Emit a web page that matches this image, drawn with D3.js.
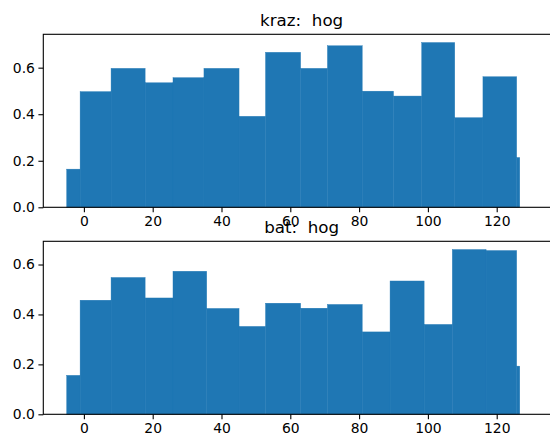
<!DOCTYPE html>
<html>
<head>
<meta charset="utf-8">
<script src="https://cdn.jsdelivr.net/npm/d3@7"></script>
<style>
  body { margin: 0; background: white; }
  svg { display: block; overflow: hidden; }
  text { font-family: "DejaVu Sans", sans-serif; fill: #000; }
</style>
</head>
<body>
<script>
// bin edges and bar heights
let krazEdges = [-5, -1.1, 7.9, 17.8, 25.9, 34.9, 45.1, 52.8, 63.0, 70.8, 80.9, 90.0, 98.2, 107.8, 116.0, 125.8, 126.7]
let krazValues = [0.164, 0.497, 0.597, 0.535, 0.557, 0.597, 0.391, 0.666, 0.597, 0.694, 0.499, 0.478, 0.708, 0.385, 0.561, 0.214]
let batEdges = [-5, -1.1, 7.9, 17.8, 25.9, 35.7, 45.1, 52.8, 63.0, 70.8, 80.9, 89.0, 98.9, 107.1, 116.9, 125.8, 126.7]
let batValues = [0.156, 0.457, 0.548, 0.466, 0.573, 0.424, 0.352, 0.445, 0.425, 0.440, 0.330, 0.534, 0.360, 0.660, 0.656, 0.193]
let titles = ['kraz:  hog', 'bat:  hog']
let xTicks = [0, 20, 40, 60, 80, 100, 120]
let yTicks = [0, 0.2, 0.4, 0.6]
let xLimits = [-11.8, 138.4]

let width = 550
let height = 435
let left = 43.3
let right = 560
let panels = [
    {edges: krazEdges, values: krazValues, title: titles[0], top: 34.3, bottom: 207.3},
    {edges: batEdges, values: batValues, title: titles[1], top: 241.3, bottom: 414.3}
]

let svg = d3.select('body')
    .append('svg')
    .attr('width', width)
    .attr('height', height)

let x = d3.scaleLinear()
    .domain(xLimits)
    .range([left, right])

function drawPanel(p) {
    let ymax = d3.max(p.values) * 1.05
    let y = d3.scaleLinear()
        .domain([0, ymax])
        .range([p.bottom, p.top])
    let bins = p.values.map((v, k) => ({x0: p.edges[k], x1: p.edges[k + 1], v: v}))

    let g = svg.append('g')
    g.selectAll('rect')
        .data(bins)
        .enter()
        .append('rect')
        .attr('x', d => x(d.x0))
        .attr('width', d => x(d.x1) - x(d.x0))
        .attr('y', d => y(d.v))
        .attr('height', d => y(0) - y(d.v))
        .attr('fill', '#1f77b4')
        .attr('stroke', '#1f77b4')
        .attr('stroke-width', 0.4)

    let xAxis = d3.axisBottom(x)
        .tickValues(xTicks)
        .tickFormat(d3.format('d'))
        .tickSizeInner(4.9)
        .tickSizeOuter(0)
        .tickPadding(3.5)
    let yAxis = d3.axisLeft(y)
        .tickValues(yTicks)
        .tickFormat(d3.format('.1f'))
        .tickSizeInner(4.9)
        .tickSizeOuter(0)
        .tickPadding(3.5)

    let xg = g.append('g')
        .attr('transform', `translate(0,${p.bottom})`)
        .call(xAxis)
    let yg = g.append('g')
        .attr('transform', `translate(${left},0)`)
        .call(yAxis)
    for (let a of [xg, yg]) {
        a.select('.domain').remove()
        a.selectAll('line').attr('stroke', '#000').attr('stroke-width', 1.1)
        a.selectAll('text')
            .style('font-family', '"DejaVu Sans", sans-serif')
            .style('font-size', '13.9px')
            .attr('fill', '#000')
    }

    // spines
    g.append('rect')
        .attr('x', left)
        .attr('y', p.top)
        .attr('width', right - left)
        .attr('height', p.bottom - p.top)
        .attr('fill', 'none')
        .attr('stroke', '#000')
        .attr('stroke-width', 1.1)

    // title overlaps the upper panel's tick labels, as in the reference
    g.append('text')
        .attr('x', (left + right) / 2)
        .attr('y', p.top - 8.3)
        .attr('text-anchor', 'middle')
        .style('font-size', '16.7px')
        .style('white-space', 'pre')
        .text(p.title)
}

panels.forEach(drawPanel)
</script>
</body>
</html>
